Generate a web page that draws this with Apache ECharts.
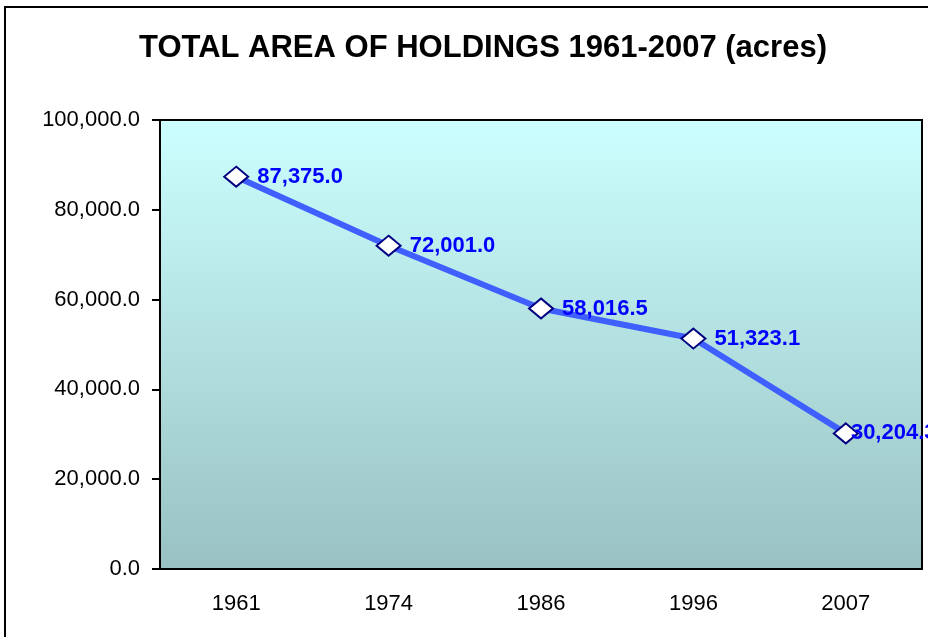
<!DOCTYPE html>
<html>
<head>
    <meta charset="utf-8"/>
    <title>TOTAL AREA OF HOLDINGS 1961-2007 (acres)</title>
    <script src="https://cdn.jsdelivr.net/npm/echarts@6/dist/echarts.min.js"></script>
    <style>
        html, body { margin: 0; padding: 0; background: #fff; }
        #main { width: 928px; height: 637px; }
    </style>
</head>
<body>
<div id="main"></div>
<script>
    // chart data
    var years = ['1961', '1974', '1986', '1996', '2007'];
    var acres = [87375.0, 72001.0, 58016.5, 51323.1, 30204.3];
    var yTicks = [0, 20000, 40000, 60000, 80000, 100000];

    function fmt(v) {
        return Number(v).toLocaleString('en-US', {minimumFractionDigits: 1, maximumFractionDigits: 1});
    }

    // last label sits over its marker, as in the original
    var seriesData = acres.map(function (v, i) {
        return i === acres.length - 1 ? {value: v, label: {distance: -8}} : v;
    });

    var chart = echarts.init(document.getElementById('main'));
    var option = {
        animation: false,
        textStyle: {fontFamily: 'Liberation Sans, Arial, sans-serif'},
        title: {
            text: 'TOTAL AREA OF HOLDINGS 1961-2007 (acres)',
            left: 478,
            textAlign: 'center',
            top: 28,
            textStyle: {fontSize: 31, fontWeight: 'bold', color: '#000', fontFamily: 'Liberation Sans, Arial, sans-serif'}
        },
        graphic: [{
            type: 'rect',
            shape: {x: 5, y: 7, width: 960, height: 680},
            style: {fill: 'none', stroke: '#000', lineWidth: 2},
            silent: true
        }],
        grid: {
            left: 160, right: 6, top: 120, bottom: 68,
            show: true,
            borderColor: '#000',
            borderWidth: 2,
            backgroundColor: new echarts.graphic.LinearGradient(0, 0, 0, 1, [
                {offset: 0, color: '#CCFFFF'},
                {offset: 1, color: '#99C1C1'}
            ])
        },
        xAxis: {
            type: 'category',
            data: years,
            boundaryGap: true,
            axisLine: {show: false},
            axisTick: {show: false},
            axisLabel: {color: '#000', fontSize: 22, margin: 24}
        },
        yAxis: {
            type: 'value',
            min: yTicks[0],
            max: yTicks[yTicks.length - 1],
            interval: yTicks[1] - yTicks[0],
            splitLine: {show: false},
            axisLine: {show: true, lineStyle: {color: '#000', width: 2}},
            axisTick: {show: true, length: 8, inside: false, lineStyle: {color: '#000', width: 2}},
            axisLabel: {color: '#000', fontSize: 22, margin: 20, formatter: fmt}
        },
        series: [{
            type: 'line',
            data: seriesData,
            lineStyle: {color: '#3F5FFF', width: 6},
            itemStyle: {color: '#FFFFFF', borderColor: '#000080', borderWidth: 2},
            symbol: 'diamond',
            symbolSize: [24, 20],
            label: {
                show: true,
                position: 'right',
                distance: 8,
                color: '#0000FF',
                fontWeight: 'bold',
                fontSize: 22,
                formatter: function (p) { return fmt(p.value); }
            },
            z: 3
        }]
    };
    chart.setOption(option);
    window.onresize = function () {
        chart.resize();
    };
</script>
</body>
</html>
